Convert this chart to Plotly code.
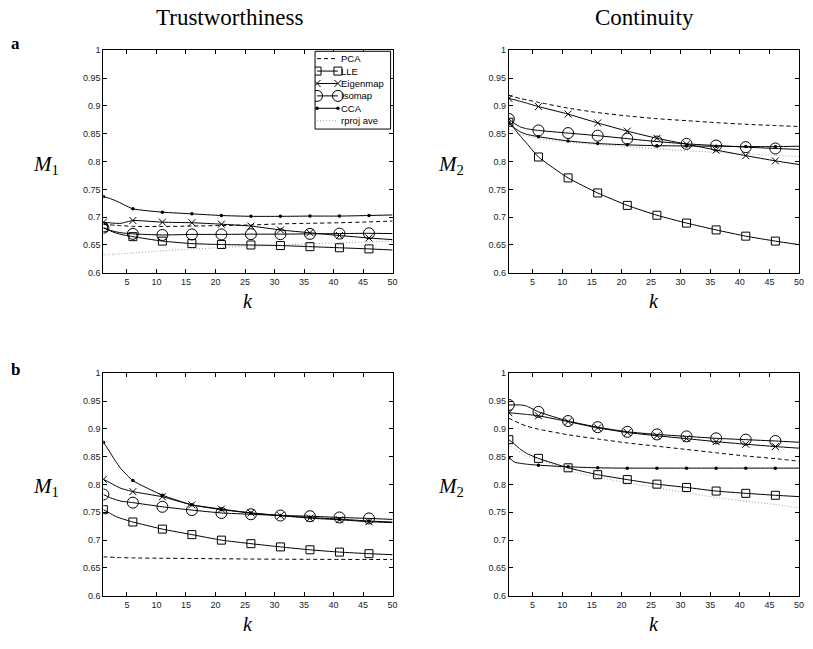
import plotly.graph_objects as go

W, H = 813, 649

# ---------------- data ----------------
k_line = [1, 2, 3, 4, 6, 11, 16, 21, 26, 31, 36, 41, 46, 50]
k_mark = [1, 6, 11, 16, 21, 26, 31, 36, 41, 46]
x_ticks = [5, 10, 15, 20, 25, 30, 35, 40, 45, 50]
y_ticks = [0.6, 0.65, 0.7, 0.75, 0.8, 0.85, 0.9, 0.95, 1.0]
y_ticktext = ["0.6", "0.65", "0.7", "0.75", "0.8", "0.85", "0.9", "0.95", "1"]

methods = ["PCA", "LLE", "Eigenmap", "Isomap", "CCA", "rproj ave"]

# panel a, Trustworthiness (M1)
a_trust_pca = [0.6868, 0.6862, 0.6855, 0.6848, 0.6835, 0.6833, 0.684, 0.685, 0.686, 0.688, 0.689, 0.690, 0.6915, 0.693]
a_trust_lle = [0.681, 0.676, 0.672, 0.669, 0.665, 0.657, 0.6525, 0.6508, 0.650, 0.649, 0.647, 0.645, 0.643, 0.641]
a_trust_eig = [0.691, 0.690, 0.689, 0.689, 0.694, 0.691, 0.690, 0.6874, 0.684, 0.677, 0.672, 0.667, 0.6626, 0.6596]
a_trust_iso = [0.681, 0.677, 0.674, 0.672, 0.670, 0.668, 0.669, 0.669, 0.6695, 0.6695, 0.670, 0.6705, 0.671, 0.6705]
a_trust_cca = [0.737, 0.734, 0.730, 0.725, 0.715, 0.709, 0.706, 0.703, 0.7015, 0.7015, 0.702, 0.702, 0.703, 0.704]
a_trust_rproj = [0.632, 0.6327, 0.6334, 0.634, 0.6355, 0.6396, 0.6428, 0.6454, 0.6476, 0.6496, 0.652, 0.654, 0.6555, 0.657]

# panel a, Continuity (M2)
a_cont_pca = [0.919, 0.916, 0.913, 0.911, 0.9065, 0.896, 0.888, 0.882, 0.877, 0.8735, 0.870, 0.867, 0.8647, 0.863]
a_cont_lle = [0.8706, 0.858, 0.845, 0.833, 0.8082, 0.7706, 0.7435, 0.7212, 0.7035, 0.6894, 0.6771, 0.6659, 0.657, 0.6506]
a_cont_eig = [0.9135, 0.911, 0.908, 0.905, 0.8988, 0.8853, 0.8694, 0.8547, 0.8418, 0.8312, 0.8206, 0.8106, 0.8012, 0.7947]
a_cont_iso = [0.8765, 0.868, 0.862, 0.859, 0.8559, 0.8512, 0.8465, 0.8412, 0.8359, 0.8318, 0.8288, 0.8259, 0.8235, 0.8218]
a_cont_cca = [0.8706, 0.860, 0.853, 0.849, 0.8447, 0.837, 0.8324, 0.830, 0.8285, 0.828, 0.8275, 0.827, 0.8268, 0.8276]
a_cont_rproj = [0.8576, 0.853, 0.849, 0.846, 0.841, 0.835, 0.8305, 0.8271, 0.823, 0.8194, 0.8165, 0.8135, 0.811, 0.8088]

# panel b, Trustworthiness (M1)
b_trust_pca = [0.6698, 0.6695, 0.669, 0.6685, 0.668, 0.6674, 0.667, 0.6665, 0.666, 0.6657, 0.6655, 0.6653, 0.6652, 0.6651]
b_trust_lle = [0.7547, 0.749, 0.743, 0.739, 0.7326, 0.7198, 0.7099, 0.700, 0.6936, 0.6878, 0.6826, 0.6785, 0.6756, 0.6738]
b_trust_eig = [0.8093, 0.804, 0.798, 0.793, 0.7872, 0.7779, 0.7634, 0.7558, 0.7488, 0.744, 0.7395, 0.7366, 0.7331, 0.7314]
b_trust_iso = [0.782, 0.777, 0.773, 0.770, 0.7674, 0.7599, 0.754, 0.7488, 0.7465, 0.7442, 0.743, 0.7407, 0.739, 0.7372]
b_trust_cca = [0.876, 0.860, 0.843, 0.828, 0.807, 0.7808, 0.7634, 0.7547, 0.7488, 0.7442, 0.7407, 0.7378, 0.7343, 0.7326]
b_trust_rproj = None

# panel b, Continuity (M2)
b_cont_pca = [0.919, 0.914, 0.909, 0.905, 0.8994, 0.8894, 0.8818, 0.8747, 0.8688, 0.863, 0.857, 0.8512, 0.8465, 0.8418]
b_cont_lle = [0.8806, 0.872, 0.863, 0.856, 0.847, 0.830, 0.8176, 0.8088, 0.8006, 0.7947, 0.7882, 0.7841, 0.7806, 0.7782]
b_cont_eig = [0.929, 0.928, 0.927, 0.926, 0.9235, 0.913, 0.9018, 0.8935, 0.8876, 0.8824, 0.877, 0.8724, 0.8682, 0.8653]
b_cont_iso = [0.943, 0.943, 0.943, 0.941, 0.9306, 0.9141, 0.903, 0.8947, 0.890, 0.8865, 0.883, 0.8806, 0.8782, 0.8759]
b_cont_cca = [0.8482, 0.840, 0.838, 0.8365, 0.8347, 0.8318, 0.830, 0.8294, 0.8294, 0.8294, 0.8294, 0.8294, 0.8294, 0.8294]
b_cont_rproj = [0.8718, 0.864, 0.857, 0.851, 0.8453, 0.8247, 0.813, 0.803, 0.7941, 0.7853, 0.7765, 0.770, 0.7641, 0.7582]

panels = [
    [a_trust_pca, a_trust_lle, a_trust_eig, a_trust_iso, a_trust_cca, a_trust_rproj],
    [a_cont_pca, a_cont_lle, a_cont_eig, a_cont_iso, a_cont_cca, a_cont_rproj],
    [b_trust_pca, b_trust_lle, b_trust_eig, b_trust_iso, b_trust_cca, b_trust_rproj],
    [b_cont_pca, b_cont_lle, b_cont_eig, b_cont_iso, b_cont_cca, b_cont_rproj],
]

# ---------------- styles ----------------
line_styles = {
    "PCA": dict(color="black", width=1, dash="4px,3px"),
    "LLE": dict(color="black", width=1),
    "Eigenmap": dict(color="black", width=1),
    "Isomap": dict(color="black", width=1),
    "CCA": dict(color="black", width=1),
    "rproj ave": dict(color="#a0a0a0", width=1, dash="1px,2px"),
}
marker_styles = {
    "PCA": None,
    "LLE": dict(symbol="square-open", size=8, color="black", line=dict(width=1, color="black")),
    "Eigenmap": dict(symbol="x-thin-open", size=7, color="black", line=dict(width=1, color="black")),
    "Isomap": dict(symbol="circle-open", size=11, color="black", line=dict(width=1, color="black")),
    "CCA": dict(symbol="circle", size=3.5, color="black"),
    "rproj ave": None,
}

# plot areas in pixels: (left, right, top, bottom)
boxes = [
    (104, 395, 46, 272),
    (512, 804, 46, 272),
    (104, 395, 374, 600),
    (512, 804, 374, 600),
]
# legend box in pixels (left, right, top, bottom)
leg_box = (317, 393, 47, 126)

fig = go.Figure()
tick_font = dict(family="Liberation Sans, Arial, sans-serif", size=9, color="#222")

layout_axes = {}
for i, (l, r, t, b) in enumerate(boxes):
    n = "" if i == 0 else str(i + 1)
    layout_axes["xaxis" + n] = dict(
        domain=[l / W, r / W], anchor="y" + n, range=[1, 50],
        tickvals=x_ticks, ticks="inside", ticklen=4, tickcolor="black",
        showline=True, linecolor="black", linewidth=1, mirror="ticks",
        showgrid=False, zeroline=False, tickfont=tick_font,
    )
    layout_axes["yaxis" + n] = dict(
        domain=[1 - b / H, 1 - t / H], anchor="x" + n, range=[0.6, 1.0],
        tickvals=y_ticks, ticktext=y_ticktext, ticks="inside", ticklen=4,
        tickcolor="black", showline=True, linecolor="black", linewidth=1,
        mirror="ticks", showgrid=False, zeroline=False, tickfont=tick_font,
    )

# hidden axis pair for the legend, in pixel units of the legend box
ll, lr, lt, lb = leg_box
layout_axes["xaxis5"] = dict(domain=[ll / W, lr / W], anchor="y5", range=[ll, lr], visible=False, fixedrange=True)
layout_axes["yaxis5"] = dict(domain=[1 - lb / H, 1 - lt / H], anchor="x5", range=[lb, lt], visible=False, fixedrange=True)

draw_order = ["rproj ave", "PCA", "LLE", "Eigenmap", "Isomap", "CCA"]
for i, series in enumerate(panels):
    n = "" if i == 0 else str(i + 1)
    for name in draw_order:
        vals = series[methods.index(name)]
        if vals is None:
            continue
        fig.add_trace(go.Scatter(
            x=k_line, y=vals, mode="lines", line=dict(**line_styles[name], shape="spline", smoothing=0.5),
            xaxis="x" + n, yaxis="y" + n, showlegend=False, hoverinfo="skip",
        ))
        if marker_styles[name] is not None:
            mx = [k for k in k_line if k in k_mark]
            my = [v for k, v in zip(k_line, vals) if k in k_mark]
            fig.add_trace(go.Scatter(
                x=mx, y=my, mode="markers", marker=marker_styles[name],
                xaxis="x" + n, yaxis="y" + n, showlegend=False, hoverinfo="skip",
            ))

# MATLAB-style legend: sample line with a marker at both ends, then the label
serif = "Liberation Serif, Times New Roman, serif"
sans = "Liberation Sans, Arial, sans-serif"
ann = []
sample_x0, sample_x1 = ll + 2, ll + 23
row0, row_step = lt + 7.5, 12.6
for j, name in enumerate(methods):
    yy = row0 + j * row_step
    mk = marker_styles[name]
    fig.add_trace(go.Scatter(
        x=[sample_x0, sample_x1], y=[yy, yy],
        mode="lines+markers" if mk is not None else "lines",
        line=line_styles[name], marker=mk if mk is not None else None,
        xaxis="x5", yaxis="y5", showlegend=False, hoverinfo="skip",
    ))
    ann.append(dict(text=name, x=sample_x1 + 1, y=yy, xref="x5", yref="y5", showarrow=False,
                    xanchor="left", yanchor="middle",
                    font=dict(family=sans, size=9.5, color="black")))


def add_text(text, px, py, size, xanchor="center", yanchor="middle", family=serif):
    ann.append(dict(text=text, x=px / W, y=1 - py / H, xref="paper", yref="paper",
                    showarrow=False, xanchor=xanchor, yanchor=yanchor,
                    font=dict(family=family, size=size, color="black")))


add_text("Trustworthiness", 231, 13, 23)
add_text("Continuity", 648, 13, 23)
add_text("<b>a</b>", 16, 39, 17)
add_text("<b>b</b>", 16, 370, 17)
for (l, r, t, b), idx in zip(boxes, [1, 2, 1, 2]):
    add_text("<i>M</i><sub>%d</sub>" % idx, l - 58, (t + b) / 2 + 3, 21)
    add_text("<i>k</i>", (l + r) / 2, b + 29, 20)

fig.update_layout(
    width=W, height=H, margin=dict(l=0, r=0, t=0, b=0),
    paper_bgcolor="white", plot_bgcolor="white",
    annotations=ann,
    showlegend=False,
    shapes=[dict(type="rect", xref="paper", yref="paper",
                 x0=ll / W, x1=lr / W, y0=1 - lb / H, y1=1 - lt / H,
                 line=dict(color="black", width=1), fillcolor="rgba(0,0,0,0)")],
    **layout_axes,
)

fig.write_html("out.html", config={"displayModeBar": False},
               post_script="document.body.style.margin='0px';")
